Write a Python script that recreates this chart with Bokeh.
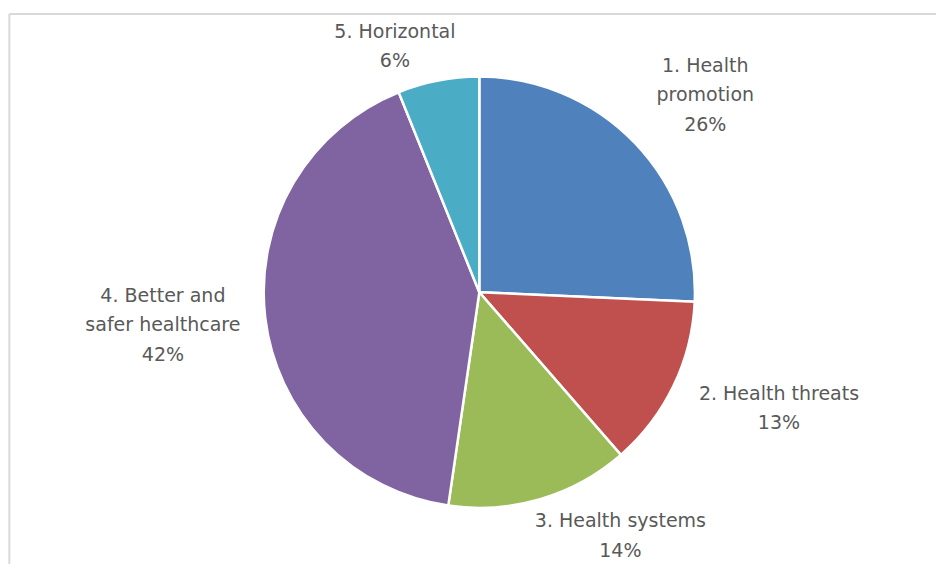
import numpy as np
from bokeh.plotting import figure
from bokeh.models import ColumnDataSource, Range1d
from bokeh.core.properties import value
from bokeh.embed import file_html
from bokeh.resources import INLINE

# ---- data ----
categories = ["1. Health\npromotion", "2. Health threats", "3. Health systems",
              "4. Better and\nsafer healthcare", "5. Horizontal"]
shares = [25.7, 12.9, 13.7, 41.6, 6.1]          # percent of total
colors = ["#4F81BD", "#C0504D", "#9BBB59", "#8064A2", "#4BACC6"]

# ---- layout ----
W, H = 936, 564
SX, SY = W / 952, H / 580          # reference-pixel -> figure-pixel
S = (SX + SY) / 2
CX, CY = 487 * SX, H - 300 * SY    # pie centre (y up)
R = 220.5 * S
# label placement: angular shift (deg, clockwise) from slice mid-angle, distance from centre
label_shift = [2.2, -4.5, -13.5, 1.0, -7.7]
label_dist = [307, 327, 288, 323.5, 268]
LINE = 30.5 * SY

frac = np.array(shares) / np.sum(shares)
cum = np.concatenate([[0], np.cumsum(frac)])
start = np.pi / 2 - cum[:-1] * 2 * np.pi
end = np.pi / 2 - cum[1:] * 2 * np.pi

wsrc = ColumnDataSource(dict(start=start, end=end, color=colors,
                             x=[CX] * len(shares), y=[CY] * len(shares)))

p = figure(width=W, height=H, output_backend="svg", toolbar_location=None,
           x_range=Range1d(0, W), y_range=Range1d(0, H), min_border=0)
p.axis.visible = False
p.grid.visible = False
p.outline_line_color = None
p.background_fill_color = "white"

# chart-area border (top and left edges visible in the reference)
bx0, by0 = 9 * SX, H - 14 * SY
p.segment(x0=[bx0, bx0], y0=[by0, by0], x1=[W + 10, bx0], y1=[by0, -10],
          line_color="#d9d9d9", line_width=2)

p.wedge(x="x", y="y", radius=R, start_angle="start", end_angle="end",
        direction="clock", fill_color="color", line_color="white",
        line_width=2.5, source=wsrc)

# labels
tx, ty, tt = [], [], []
for i, (cat, s) in enumerate(zip(categories, shares)):
    mid = (cum[i] + cum[i + 1]) / 2 * 360 + label_shift[i]
    a = np.deg2rad(mid)
    lx = CX + label_dist[i] * SX * np.sin(a)
    ly = CY + label_dist[i] * SY * np.cos(a)
    lines = cat.split("\n") + [f"{round(s):.0f}%"]
    n = len(lines)
    for j, ln in enumerate(lines):
        tx.append(lx)
        ty.append(ly - (j - (n - 1) / 2) * LINE)
        tt.append(ln)

tsrc = ColumnDataSource(dict(x=tx, y=ty, text=tt))
p.text(x="x", y="y", text="text", source=tsrc, text_align="center",
       text_baseline="middle", text_font=value("DejaVu Sans"),
       text_font_size="19px", text_color="#595959")

open("out.html", "w").write(file_html(p, INLINE))
